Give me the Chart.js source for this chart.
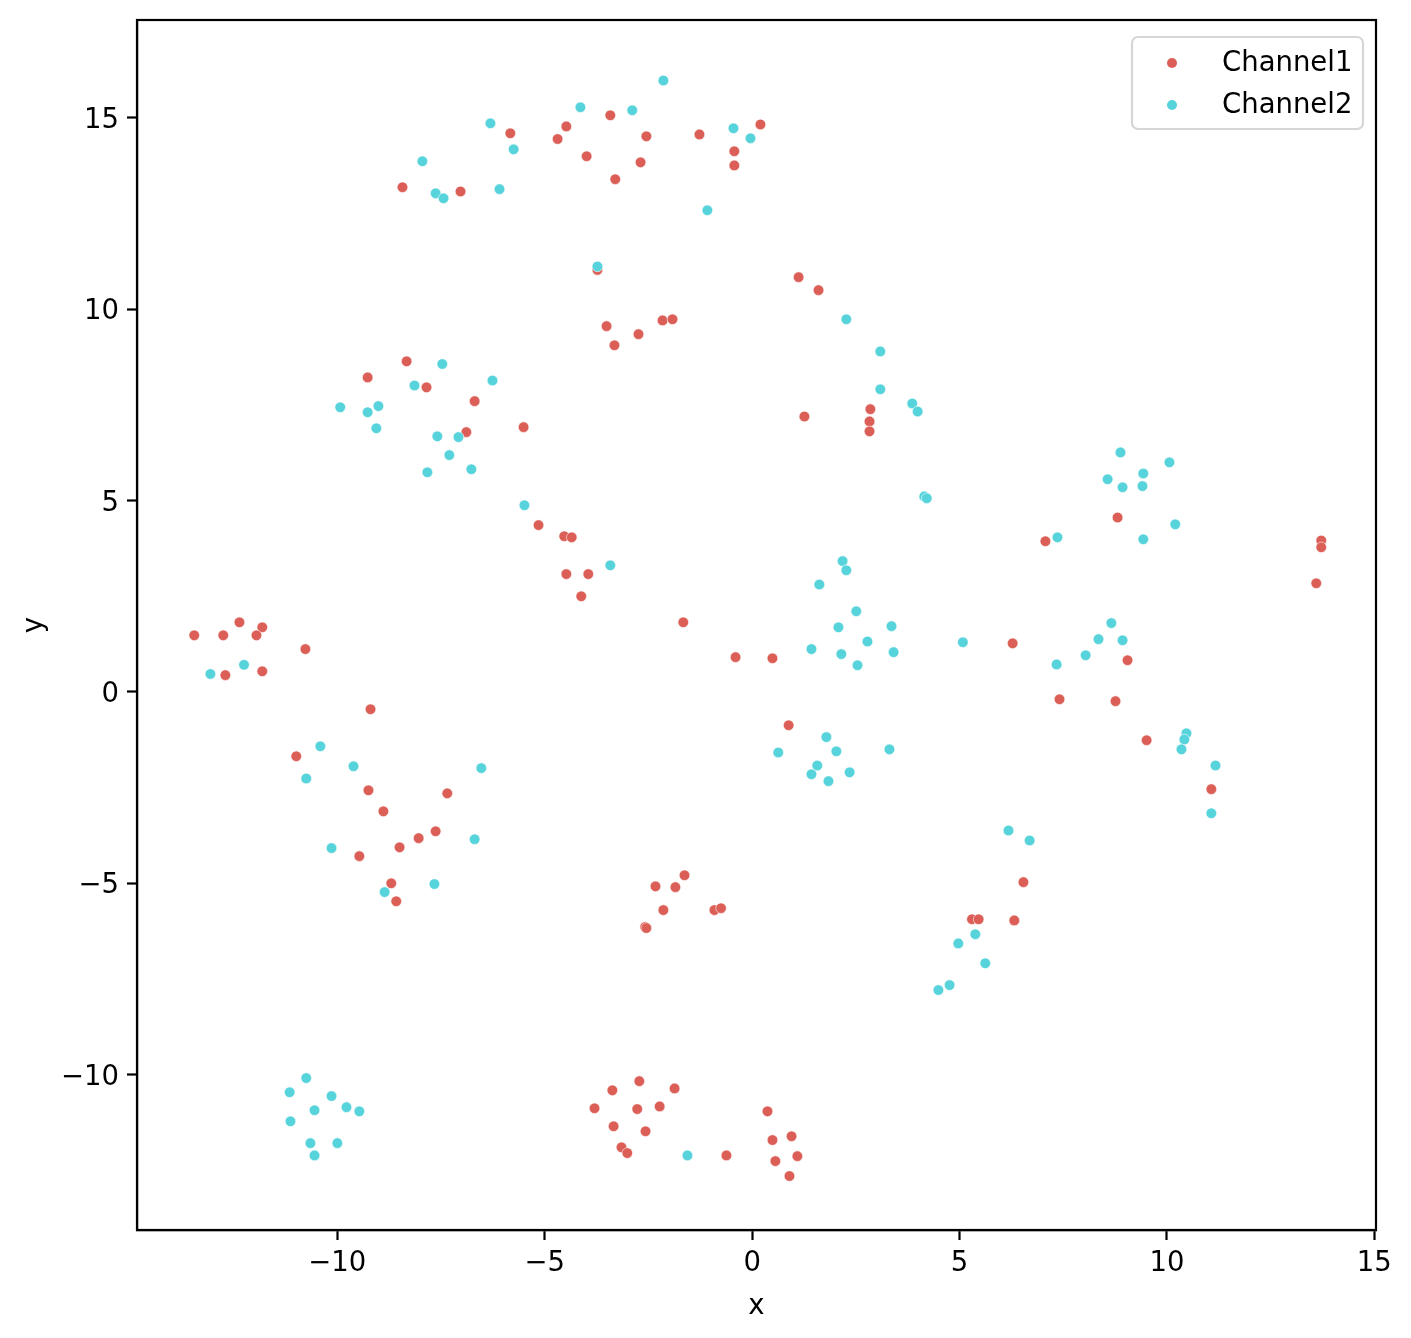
<!DOCTYPE html>
<html>
<head>
<meta charset="utf-8">
<script src="https://cdn.jsdelivr.net/npm/chart.js@4.4.0/dist/chart.umd.min.js"></script>
<style>
  html, body { margin: 0; padding: 0; background: #fff; }
  canvas { display: block; }
</style>
</head>
<body>
<canvas id="myChart" width="1411" height="1338"></canvas>
<script>
// values
const ch1X = [-5.83, -8.43, -7.03, -8.33, -9.27, -7.85, -6.69, -6.89, -5.51, -5.15,
  -12.36, -11.81, -13.45, -12.75, -11.95, -10.77, -12.70, -11.81, -9.20, -10.99,
  -9.25, -7.35, -8.89, -7.63, -9.47, -8.50, -8.04, -8.70, -8.58,
  -3.42, -4.48, -4.69, -2.55, -1.27, 0.20, -0.43, -0.43, -3.99, -2.69, -3.30,
  -3.73, 1.12, 1.60, -3.51, -3.32, -2.74, -2.16, -1.92, 1.26, 2.85, 2.83, 2.83,
  -4.53, -4.35, -4.48, -3.95, -4.12, -1.66, -0.40, 0.49, 0.88,
  -1.63, -2.33, -1.85, -2.14, -2.58, -2.55, -0.91, -0.75,
  -2.72, -3.37, -1.87, -3.80, -2.77, -2.23, -3.34, -2.57, -3.15, -3.01, -0.62,
  0.37, 0.49, 0.95, 1.09, 0.56, 0.90,
  6.54, 5.30, 5.46, 6.32,
  8.81, 7.07, 13.72, 13.72, 13.60, 6.28, 9.05, 7.41, 8.76, 9.51, 11.07];
const ch1Y = [14.60, 13.19, 13.08, 8.64, 8.22, 7.96, 7.60, 6.79, 6.92, 4.36,
  1.82, 1.69, 1.48, 1.48, 1.48, 1.12, 0.44, 0.54, -0.45, -1.68,
  -2.57, -2.65, -3.12, -3.64, -4.29, -4.06, -3.82, -5.00, -5.47,
  15.07, 14.78, 14.45, 14.52, 14.57, 14.83, 14.13, 13.76, 14.00, 13.84, 13.40,
  11.03, 10.84, 10.50, 9.56, 9.06, 9.35, 9.71, 9.74, 7.20, 7.39, 7.07, 6.81,
  4.07, 4.04, 3.08, 3.08, 2.50, 1.82, 0.91, 0.88, -0.87,
  -4.79, -5.08, -5.10, -5.70, -6.14, -6.17, -5.70, -5.65,
  -10.17, -10.41, -10.36, -10.88, -10.90, -10.83, -11.35, -11.48, -11.90, -12.05, -12.11,
  -10.96, -11.71, -11.61, -12.13, -12.26, -12.65,
  -4.97, -5.94, -5.94, -5.97,
  4.56, 3.94, 3.96, 3.78, 2.84, 1.27, 0.83, -0.19, -0.24, -1.26, -2.54];

const ch2X = [-6.31, -5.75, -7.95, -7.63, -7.44, -6.09, -7.47, -8.14, -6.26, -9.93,
  -9.27, -9.01, -9.06, -7.59, -7.08, -7.30, -7.83, -6.77, -5.49, -12.25,
  -13.06, -10.41, -10.75, -9.61, -6.53, -10.14, -6.69, -7.66, -8.86,
  -10.75, -11.15, -10.14, -10.55, -9.78, -9.47, -11.13, -10.65, -10.00, -10.55,
  -2.14, -4.14, -2.89, -0.45, -0.04, -1.08, -3.73, 2.27, 3.09, 3.09, 3.86, 3.99,
  4.15, 4.21, -3.42, 2.18, 2.27, 1.62, 2.51, 2.08, 3.36, 2.78, 1.43, 2.15, 3.41, 2.54, 5.08,
  1.79, 0.63, 2.03, 3.31, 1.57, 1.43, 2.35, 1.84,
  4.97, 4.76, 4.49, -1.56,
  6.18, 6.69, 5.38, 5.62,
  8.88, 10.06, 8.57, 8.93, 9.43, 9.41, 10.20, 7.36, 9.43,
  8.66, 8.35, 8.93, 8.04, 7.34, 10.47, 10.42, 10.35, 11.17, 11.07];
const ch2Y = [14.86, 14.18, 13.87, 13.03, 12.90, 13.14, 8.57, 8.01, 8.14, 7.44,
  7.31, 7.47, 6.89, 6.68, 6.66, 6.19, 5.74, 5.82, 4.88, 0.71,
  0.47, -1.42, -2.26, -1.94, -1.99, -4.08, -3.85, -5.02, -5.23,
  -10.09, -10.46, -10.56, -10.93, -10.85, -10.96, -11.22, -11.79, -11.79, -12.11,
  15.98, 15.28, 15.20, 14.73, 14.47, 12.59, 11.12, 9.74, 8.90, 7.91, 7.54, 7.33,
  5.11, 5.06, 3.31, 3.42, 3.18, 2.81, 2.11, 1.69, 1.72, 1.32, 1.12, 0.99, 1.04, 0.70, 1.30,
  -1.18, -1.58, -1.55, -1.50, -1.92, -2.15, -2.10, -2.33,
  -6.57, -7.66, -7.79, -12.11,
  -3.62, -3.88, -6.33, -7.09,
  6.26, 6.00, 5.56, 5.35, 5.71, 5.38, 4.38, 4.04, 3.99,
  1.80, 1.38, 1.35, 0.96, 0.72, -1.08, -1.24, -1.50, -1.92, -3.17];

const xTicks = [-10, -5, 0, 5, 10, 15];
const yTicks = [-10, -5, 0, 5, 10, 15];

const seriesNames = ['Channel1', 'Channel2'];
const seriesColors = ['#db5f57', '#57d3db'];

const toPoints = (xs, ys) => xs.map((x, i) => ({ x: x, y: ys[i] }));
const fontMain = { family: 'DejaVu Sans', size: 27.5 };
const fmt = v => (v < 0 ? '\u2212' + Math.abs(v) : String(v));

// top/right spines and the legend box
const framePlugin = {
  id: 'frame',
  afterDraw(chart) {
    const ctx = chart.ctx;
    const a = chart.chartArea;
    ctx.save();
    ctx.strokeStyle = '#000';
    ctx.lineWidth = 2.2;
    ctx.strokeRect(a.left, a.top, a.right - a.left, a.bottom - a.top);

    // legend
    const bw = 231, bh = 92;
    const bx = a.right - 13 - bw, by = a.top + 17;
    ctx.beginPath();
    ctx.roundRect(bx, by, bw, bh, 6);
    ctx.fillStyle = 'rgba(255,255,255,0.8)';
    ctx.fill();
    ctx.strokeStyle = '#d6d6d6';
    ctx.lineWidth = 2.2;
    ctx.stroke();
    ctx.font = '27.5px "DejaVu Sans"';
    ctx.textBaseline = 'alphabetic';
    ctx.textAlign = 'left';
    chart.data.datasets.forEach((ds, i) => {
      const cy = by + 26 + i * 42;
      ctx.beginPath();
      ctx.arc(bx + 40, cy, 5, 0, Math.PI * 2);
      ctx.fillStyle = ds.backgroundColor;
      ctx.fill();
      ctx.fillStyle = '#000';
      ctx.fillText(ds.label, bx + 90, cy + 8);
    });
    ctx.restore();
  }
};

const ctx = document.getElementById('myChart').getContext('2d');
const myChart = new Chart(ctx, {
  type: 'scatter',
  data: {
    datasets: [
      {
        label: seriesNames[0],
        data: toPoints(ch1X, ch1Y),
        backgroundColor: seriesColors[0],
        borderColor: 'rgba(255,255,255,0.7)',
        borderWidth: 0.8,
        pointRadius: 5.3,
        order: 2,
      },
      {
        label: seriesNames[1],
        data: toPoints(ch2X, ch2Y),
        backgroundColor: seriesColors[1],
        borderColor: 'rgba(255,255,255,0.7)',
        borderWidth: 0.8,
        pointRadius: 5.3,
        order: 1,
      },
    ],
  },
  options: {
    responsive: false,
    animation: false,
    devicePixelRatio: 1,
    layout: { padding: { left: 0, top: 20, right: 35, bottom: 0 } },
    plugins: {
      legend: { display: false },
      tooltip: { enabled: false },
    },
    scales: {
      x: {
        type: 'linear',
        position: 'bottom',
        min: -14.83,
        max: 15.04,
        afterBuildTicks: s => { s.ticks = xTicks.map(v => ({ value: v })); },
        afterFit: s => { s.height = 108; s.paddingLeft = 0; s.paddingRight = 0; },
        grid: { display: true, drawOnChartArea: false, drawTicks: true, tickLength: 10, tickWidth: 2.2, tickColor: '#000' },
        border: { display: true, color: '#000', width: 2.2 },
        ticks: { color: '#000', font: fontMain, padding: 7, maxRotation: 0, callback: v => fmt(v) },
        title: { display: true, text: 'x', color: '#000', font: fontMain, padding: { top: 0, bottom: 15 } },
      },
      y: {
        type: 'linear',
        position: 'left',
        min: -14.06,
        max: 17.56,
        afterBuildTicks: s => { s.ticks = yTicks.map(v => ({ value: v })); },
        afterFit: s => { s.width = 137; s.paddingTop = 0; s.paddingBottom = 0; },
        grid: { display: true, drawOnChartArea: false, drawTicks: true, tickLength: 10, tickWidth: 2.2, tickColor: '#000' },
        border: { display: true, color: '#000', width: 2.2 },
        ticks: { color: '#000', font: fontMain, padding: 8, labelOffset: 3, callback: v => fmt(v) },
        title: { display: true, text: 'y', color: '#000', font: fontMain, padding: { top: 18, bottom: 0 } },
      },
    },
  },
  plugins: [framePlugin],
});
</script>
</body>
</html>
